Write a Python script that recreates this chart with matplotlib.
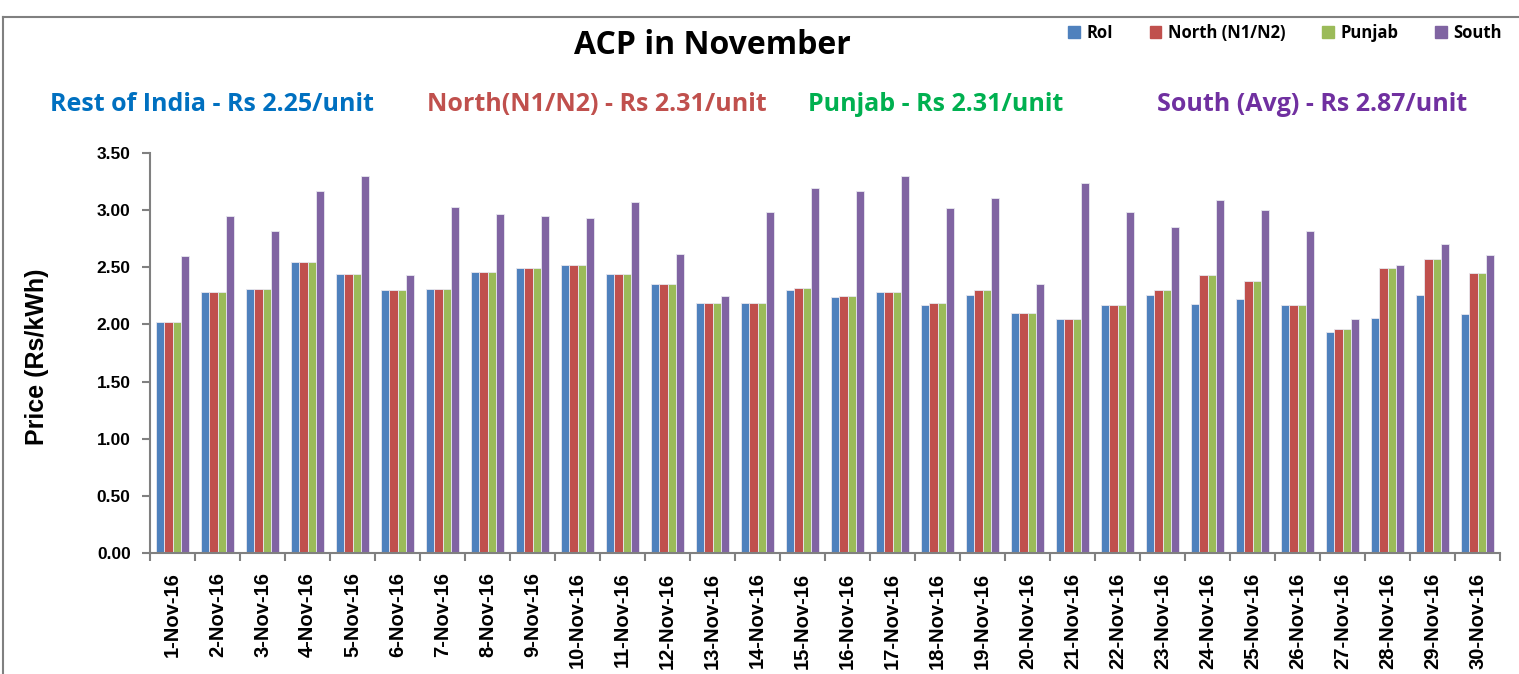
import numpy as np
import matplotlib.pyplot as plt
from matplotlib.lines import Line2D
from matplotlib.patches import Patch

days = [f'{d}-Nov-16' for d in range(1, 31)]
roi = [2.02, 2.28, 2.31, 2.55, 2.44, 2.30, 2.31, 2.46, 2.49, 2.52,
       2.44, 2.35, 2.19, 2.19, 2.30, 2.24, 2.28, 2.17, 2.26, 2.10,
       2.05, 2.17, 2.26, 2.18, 2.22, 2.17, 1.93, 2.06, 2.26, 2.09]
north = [2.02, 2.28, 2.31, 2.55, 2.44, 2.30, 2.31, 2.46, 2.49, 2.52,
         2.44, 2.35, 2.19, 2.19, 2.32, 2.25, 2.28, 2.19, 2.30, 2.10,
         2.05, 2.17, 2.30, 2.43, 2.38, 2.17, 1.96, 2.49, 2.57, 2.45]
punjab = [2.02, 2.28, 2.31, 2.55, 2.44, 2.30, 2.31, 2.46, 2.49, 2.52,
          2.44, 2.35, 2.19, 2.19, 2.32, 2.25, 2.28, 2.19, 2.30, 2.10,
          2.05, 2.17, 2.30, 2.43, 2.38, 2.17, 1.96, 2.49, 2.57, 2.45]
south = [2.60, 2.95, 2.82, 3.17, 3.30, 2.43, 3.03, 2.97, 2.95, 2.93,
         3.07, 2.62, 2.25, 2.98, 3.19, 3.17, 3.30, 3.02, 3.11, 2.35,
         3.24, 2.98, 2.85, 3.09, 3.00, 2.82, 2.05, 2.52, 2.70, 2.61]

series = [('RoI', roi, '#4F81BD'), ('North (N1/N2)', north, '#C0504D'),
          ('Punjab', punjab, '#9BBB59'), ('South', south, '#8064A2')]
averages = [('Rest of India - Rs 2.25/unit', '#0070C0', 0.033),
            ('North(N1/N2) - Rs 2.31/unit', '#C0504D', 0.281),
            ('Punjab - Rs 2.31/unit', '#00B050', 0.532),
            ('South (Avg) - Rs 2.87/unit', '#7030A0', 0.762)]

fig = plt.figure(figsize=(15.19, 6.74), dpi=100)
ax = fig.add_axes([0.0988, 0.1795, 0.8887, 0.5935])

x = np.arange(len(days))
w = 0.18
for i, (name, vals, col) in enumerate(series):
    ax.bar(x + (i - 1.5) * w, vals, w, color=col, edgecolor='#e8e8f0',
           linewidth=0.6, label=name)

ax.set_xlim(-0.5, len(days) - 0.5)
ax.set_ylim(0, 3.5)
ax.set_yticks(np.arange(0, 3.51, 0.5))
ax.set_yticklabels([f'{v:.2f}' for v in np.arange(0, 3.51, 0.5)],
                   fontsize=12.5, fontweight='bold', family='Liberation Sans')
ax.set_xticks(x)
ax.set_xticklabels(days, rotation=90, fontsize=14.5, fontweight='bold',
                   family='Liberation Sans')
ax.set_xticks(np.arange(-0.5, len(days), 1), minor=True)
ax.tick_params(axis='x', which='major', length=0, pad=14)
ax.tick_params(axis='x', which='minor', length=6, color='#808080', width=1.5)
ax.tick_params(axis='y', length=6, color='#808080', width=1.5, pad=8)
for s in ['top', 'right']:
    ax.spines[s].set_visible(False)
for s in ['left', 'bottom']:
    ax.spines[s].set_color('#808080')
    ax.spines[s].set_linewidth(1.5)
ax.set_ylabel('Price (Rs/kWh)', fontsize=18, fontweight='bold',
              family='Liberation Sans')
ax.yaxis.set_label_coords(-0.075, 0.49)

fig.text(0.469, 0.933, 'ACP in November', ha='center', va='center',
         fontsize=23, fontweight='bold', family='Open Sans')
for txt, col, xpos in averages:
    fig.text(xpos, 0.845, txt, ha='left', va='center', color=col,
             fontsize=18, fontweight='bold', family='Open Sans')

handles = [Patch(color=col) for _, _, col in series]
fig.legend(handles, [n for n, _, _ in series], loc='center', ncol=4,
           bbox_to_anchor=(0.846, 0.951), frameon=False,
           prop={'weight': 'bold', 'size': 12, 'family': 'Open Sans'},
           handlelength=0.7, handleheight=0.7, handletextpad=0.4,
           columnspacing=2.2)

# outer frame of the embedded chart
fig.add_artist(Line2D([0.002, 0.002], [0, 0.975], color='#808080', lw=1.5,
                      transform=fig.transFigure))
fig.add_artist(Line2D([0.002, 1], [0.975, 0.975], color='#808080', lw=1.5,
                      transform=fig.transFigure))

fig.savefig('out.png', dpi=100)
